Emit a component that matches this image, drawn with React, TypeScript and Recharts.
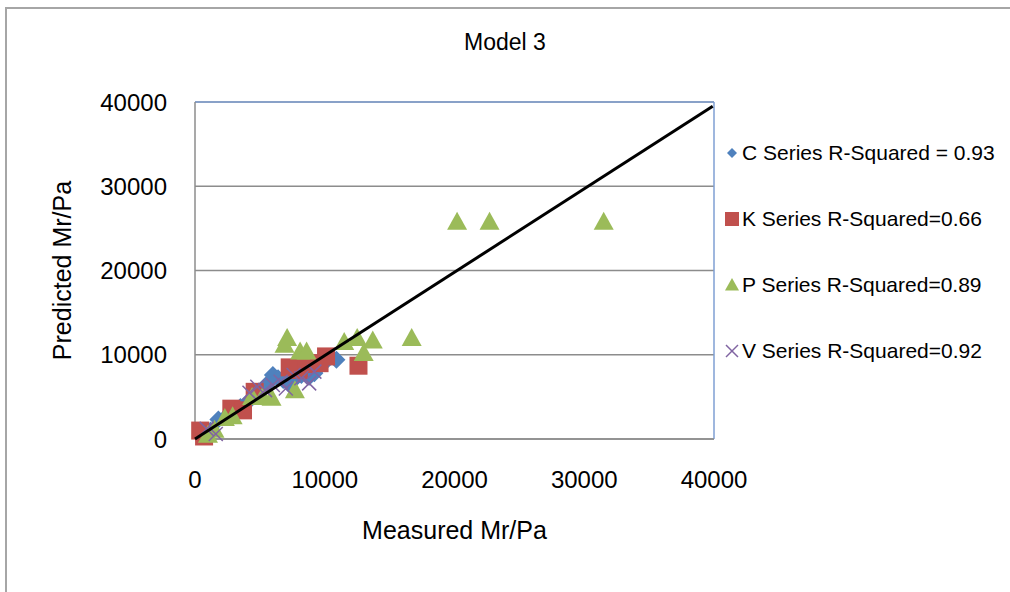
import React from 'react';
import { ScatterChart, Scatter, XAxis, YAxis, CartesianGrid, ReferenceLine } from 'recharts';

// Axis ticks (both axes share the same scale)
const axisTicks = [0, 10000, 20000, 30000, 40000];

// [measured, predicted] pairs
const cPoints = [
    [1200, 1000], [1800, 2300], [2500, 2800], [3500, 3800], [4200, 4600], [5000, 5600],
    [5600, 6600], [6000, 7600], [6400, 7200], [6800, 7000], [7200, 6600], [7600, 7000],
    [8200, 7600], [8800, 7400], [9200, 7800], [9600, 8600], [10200, 9400], [10900, 9400],
];
const kPoints = [
    [400, 1000], [700, 300], [2800, 3600], [3700, 3400], [4600, 5600], [7300, 8500],
    [8000, 8200], [8600, 8900], [9600, 9000], [10100, 9800], [12600, 8700],
];
const pPoints = [
    [1000, 500], [1500, 1100], [2300, 2500], [2900, 2700], [4400, 5000], [5200, 5000],
    [5900, 4900], [7700, 5800], [6900, 11200], [7100, 12000], [8100, 10400], [8600, 10400],
    [11500, 11500], [12500, 12000], [13000, 10200], [13700, 11700], [16700, 12000],
    [20200, 25800], [22700, 25800], [31500, 25800],
];
const vPoints = [
    [900, 1200], [1600, 600], [4200, 5500], [4800, 6200], [5400, 5800], [6000, 6400],
    [6600, 6800], [7000, 6000], [7600, 7600], [8200, 7200], [8800, 6600], [9200, 8000],
];
// 1:1 line
const linePoints = [[0, 0], [39900, 39500]];

const seriesNames = [
    'C Series R-Squared = 0.93',
    'K Series R-Squared=0.66',
    'P Series R-Squared=0.89',
    'V Series R-Squared=0.92',
];
const seriesColors = ['#4F81BD', '#C0504D', '#9BBB59', '#8064A2'];

const toData = (pts: number[][]) => pts.map(([x, y]) => ({ x, y }));

const FONT = '"Liberation Sans", Arial, sans-serif';

const drawMarker = (kind: number, cx: number, cy: number, s: number, color: string) => {
    if (kind === 0) {
        return <polygon points={`${cx},${cy - s} ${cx + s},${cy} ${cx},${cy + s} ${cx - s},${cy}`} fill={color} />;
    }
    if (kind === 1) {
        return <rect x={cx - s} y={cy - s} width={s * 2} height={s * 2} fill={color} />;
    }
    if (kind === 2) {
        return <polygon points={`${cx},${cy - s} ${cx + s},${cy + s * 0.8} ${cx - s},${cy + s * 0.8}`} fill={color} />;
    }
    return (
        <g stroke={color} strokeWidth={1.5}>
            <line x1={cx - s} y1={cy - s} x2={cx + s} y2={cy + s} />
            <line x1={cx - s} y1={cy + s} x2={cx + s} y2={cy - s} />
        </g>
    );
};

const markerSizes = [9, 9, 10, 7];

const makeShape = (kind: number) => (props: any) => {
    const { cx, cy } = props;
    if (cx == null || cy == null) return <g />;
    return drawMarker(kind, cx, cy, markerSizes[kind], seriesColors[kind]);
};

const tickStyle = { fontFamily: FONT, fontSize: 24, fill: '#000' };
const titleStyle = { fontFamily: FONT, fontSize: 25, fill: '#000' };

export default function App() {
    return (
        <div style={{ position: 'absolute', left: 0, top: 0, width: 1010, height: 592, overflow: 'hidden', background: '#fff' }}>
            <div style={{ position: 'absolute', left: 5, top: 7, width: 1200, height: 800, border: '2px solid #a6a6a6', boxSizing: 'border-box' }} />
            <div style={{ position: 'absolute', left: 0, width: 1010, top: 29, textAlign: 'center', fontFamily: FONT, fontSize: 23, color: '#000' }}>
                Model 3
            </div>
            <div style={{ position: 'absolute', left: 723, top: 120, fontFamily: FONT, fontSize: 21, color: '#000' }}>
                {seriesNames.map((name, k) => (
                    <div key={name} style={{ height: 66, display: 'flex', alignItems: 'center', whiteSpace: 'nowrap' }}>
                        <svg width={18} height={18} style={{ marginRight: 1 }}>
                            {drawMarker(k, 9, 9, [5, 7, 7, 6][k], seriesColors[k])}
                        </svg>
                        <span>{name}</span>
                    </div>
                ))}
            </div>
            <ScatterChart width={1010} height={592} margin={{ top: 102, right: 296, bottom: 53, left: 55 }} style={{ position: 'absolute', left: 0, top: 0 }}>
                <CartesianGrid horizontal vertical={false} stroke="#8c8c8c" strokeWidth={1.5} />
                <XAxis
                    type="number"
                    dataKey="x"
                    domain={[0, 40000]}
                    ticks={axisTicks}
                    tickSize={0}
                    tickMargin={32}
                    height={100}
                    tick={tickStyle}
                    axisLine={{ stroke: '#8c8c8c', strokeWidth: 1.5 }}
                    label={{ value: 'Measured Mr/Pa', position: 'insideBottom', offset: 0, style: titleStyle }}
                />
                <YAxis
                    type="number"
                    dataKey="y"
                    domain={[0, 40000]}
                    ticks={axisTicks}
                    tickSize={0}
                    tickMargin={28}
                    width={140}
                    tick={tickStyle}
                    axisLine={{ stroke: '#8c8c8c', strokeWidth: 1.5 }}
                    label={{ value: 'Predicted Mr/Pa', angle: -90, position: 'insideLeft', offset: 7, style: { ...titleStyle, textAnchor: 'middle' } }}
                />
                <ReferenceLine y={40000} stroke="#7f9fd3" strokeWidth={1.5} />
                <ReferenceLine x={40000} stroke="#7f9fd3" strokeWidth={1.5} />
                <Scatter name={seriesNames[0]} data={toData(cPoints)} fill={seriesColors[0]} shape={makeShape(0)} isAnimationActive={false} />
                <Scatter name={seriesNames[1]} data={toData(kPoints)} fill={seriesColors[1]} shape={makeShape(1)} isAnimationActive={false} />
                <Scatter name={seriesNames[2]} data={toData(pPoints)} fill={seriesColors[2]} shape={makeShape(2)} isAnimationActive={false} />
                <Scatter name={seriesNames[3]} data={toData(vPoints)} fill={seriesColors[3]} shape={makeShape(3)} isAnimationActive={false} />
                <Scatter
                    name="line"
                    data={toData(linePoints)}
                    fill="#000"
                    line={{ stroke: '#000', strokeWidth: 3 }}
                    shape={() => <g />}
                    legendType="none"
                    isAnimationActive={false}
                />
            </ScatterChart>
        </div>
    );
}
